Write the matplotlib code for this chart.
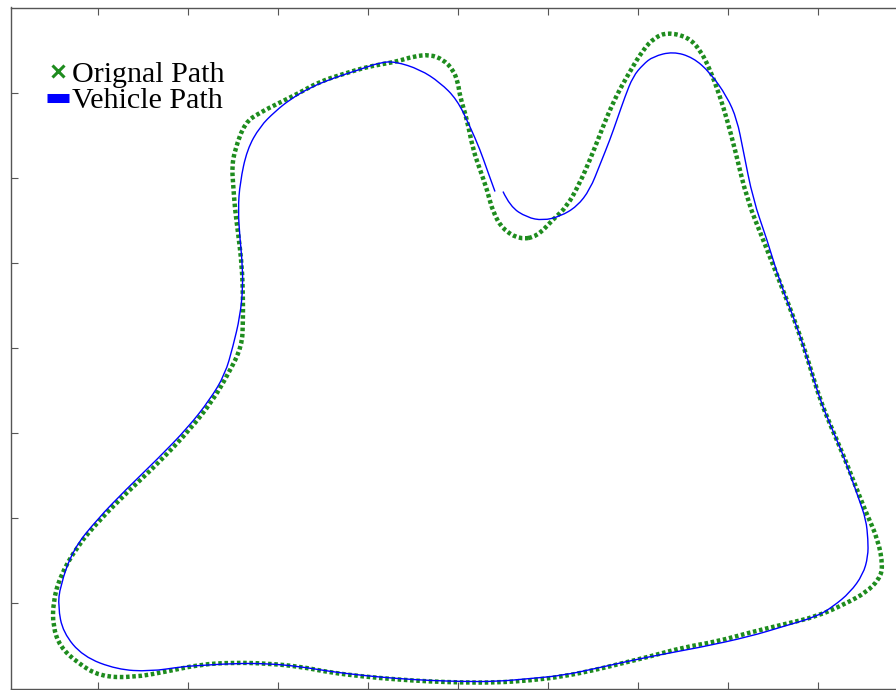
import numpy as np
import matplotlib
matplotlib.use("Agg")
import matplotlib.pyplot as plt
from matplotlib.path import Path
from matplotlib.patches import PathPatch
from matplotlib.lines import Line2D

# original (reference) path, closed loop
orig_x = [56.89, 58.78, 60.56, 62.11, 63.56, 64.67, 65.56, 66.56, 67.67, 68.78,
          70.56, 71.89, 73.22, 75.44, 76.89, 78.00, 79.11, 79.89, 80.78, 82.11,
          83.89, 85.78, 87.67, 89.11, 90.22, 91.44, 92.78, 93.89, 95.33, 96.67,
          97.22, 96.78, 95.33, 93.11, 89.89, 86.11, 82.44, 78.78, 75.00, 71.33,
          67.67, 65.44, 61.67, 58.00, 54.33, 50.56, 46.89, 43.22, 39.44, 35.78,
          32.44, 28.78, 25.00, 21.33, 17.67, 13.89, 10.22, 7.67, 5.78, 5.00,
          5.00, 5.78, 7.67, 10.22, 13.33, 16.89, 20.22, 22.67, 24.44, 26.00,
          26.11, 26.11, 26.00, 25.56, 25.22, 25.00, 24.89, 25.22, 26.33, 28.00,
          30.22, 32.44, 34.67, 37.44, 39.67, 41.33, 43.22, 45.00, 46.89, 48.33,
          49.44, 50.00, 50.22, 51.00, 51.67, 52.44, 53.22, 53.89, 55.00]
orig_y = [52.75, 53.10, 55.10, 56.62, 59.44, 62.14, 64.49, 67.20, 69.78, 71.89,
          75.07, 76.48, 77.06, 76.59, 75.07, 72.72, 69.54, 66.84, 63.32, 57.44,
          52.75, 47.69, 42.53, 37.83, 33.95, 30.78, 27.49, 24.55, 20.68, 17.50,
          14.33, 12.80, 11.28, 9.99, 8.46, 7.52, 6.58, 5.52, 4.82, 3.76,
          2.82, 2.23, 1.41, 0.94, 0.70, 0.70, 0.82, 1.06, 1.41, 1.88,
          2.58, 2.94, 3.05, 2.82, 2.00, 1.29, 1.41, 3.05, 4.93, 7.28,
          10.10, 13.16, 16.68, 19.85, 23.14, 26.67, 30.43, 33.71, 36.89, 40.18,
          43.35, 45.70, 49.57, 53.57, 56.27, 59.44, 61.32, 63.32, 66.49, 67.66,
          68.84, 70.01, 71.31, 72.25, 72.95, 73.30, 73.66, 74.24, 74.48, 73.89,
          72.72, 71.19, 69.54, 66.84, 63.32, 60.97, 58.62, 55.92, 53.92]

# vehicle path (open: starts and ends near the dip)
veh_x = [55.00, 55.78, 57.67, 59.44, 61.33, 63.22, 64.67, 65.78, 66.89, 67.67,
         68.56, 69.44, 70.56, 71.67, 73.89, 76.11, 78.00, 79.89, 81.00, 81.67,
         82.78, 84.33, 85.78, 87.67, 89.11, 90.22, 91.44, 92.78, 93.78, 94.56,
         95.33, 95.56, 95.56, 95.00, 93.56, 91.67, 89.89, 86.11, 82.44, 76.89,
         71.33, 65.78, 61.67, 58.00, 54.33, 50.56, 46.89, 43.22, 39.44, 35.78,
         32.44, 28.78, 25.00, 21.33, 19.44, 15.78, 12.11, 8.33, 6.11, 5.56,
         5.78, 7.22, 9.89, 13.11, 16.67, 20.00, 22.44, 24.11, 25.00, 25.78,
         26.11, 26.00, 25.78, 25.56, 25.78, 26.56, 28.00, 29.67, 31.33, 33.56,
         36.33, 39.11, 41.33, 43.00, 45.78, 48.00, 49.89, 51.33, 52.44, 53.22,
         54.11]
veh_y = [58.38, 56.62, 55.33, 54.98, 55.45, 56.62, 58.62, 61.56, 64.49, 66.84,
         69.54, 71.89, 73.30, 74.24, 74.83, 74.13, 72.36, 69.54, 66.84, 63.32,
         57.44, 52.75, 47.69, 42.53, 37.83, 33.95, 30.78, 27.49, 24.55, 22.20,
         19.85, 17.50, 15.51, 13.39, 11.28, 9.63, 8.46, 7.28, 6.11, 4.82,
         3.76, 2.47, 1.53, 1.17, 0.82, 0.82, 0.94, 1.17, 1.53, 2.00,
         2.58, 2.94, 2.94, 2.70, 2.58, 2.00, 2.23, 3.76, 6.58, 9.63,
         11.98, 16.33, 19.85, 23.38, 27.02, 30.66, 33.95, 36.89, 40.18, 43.70,
         47.22, 50.40, 52.75, 56.27, 59.44, 63.32, 66.02, 67.78, 69.19, 70.60,
         71.78, 72.72, 73.54, 73.66, 72.72, 71.19, 69.19, 66.02, 63.32, 60.97,
         58.38]


def smooth_path(xs, ys, closed=False):
    # quadratic bezier through midpoints of the read points
    p = np.column_stack([xs, ys])
    if closed:
        p = np.vstack([p, p[:2]])
        verts = [(p[0] + p[1]) / 2]
    else:
        verts = [p[0]]
    codes = [Path.MOVETO]
    n = len(p)
    for i in range(1, n - 1):
        end = (p[i] + p[i + 1]) / 2
        if not closed and i == n - 2:
            end = p[i + 1]
        verts += [p[i], end]
        codes += [Path.CURVE3, Path.CURVE3]
    return Path(verts, codes)


green = '#1e8c1e'
fig = plt.figure(figsize=(8.96, 6.9), dpi=100)
ax = fig.add_axes([11 / 896, 1.5 / 690, 897 / 896, 681 / 690])

ax.add_patch(PathPatch(smooth_path(orig_x, orig_y, closed=True), fill=False,
                       edgecolor=green, lw=3.2, linestyle=(0, (0.8, 0.6))))
ax.add_patch(PathPatch(smooth_path(veh_x, veh_y), fill=False,
                       edgecolor='#0000ff', lw=1.0))

ax.set_xlim(1 / 3, 100)
ax.set_ylim(0, 80)
ax.set_xticks(np.arange(10, 100, 10))
ax.set_yticks(np.arange(10, 80, 10))
ax.tick_params(direction='in', length=5, width=0.8, color='#555555',
               top=True, right=True, labelbottom=False, labelleft=False)
for s in ax.spines.values():
    s.set_color('#555555')
    s.set_linewidth(1.0)

handles = [Line2D([], [], color=green, marker='x', linestyle='none',
                  markersize=8, mew=2.2),
           Line2D([], [], color='#0000ff', lw=6.5, solid_capstyle='butt')]
ax.legend(handles, ['Orignal Path', 'Vehicle Path'], loc='upper left',
          bbox_to_anchor=(0.040, 0.922), frameon=False,
          prop={'family': 'Liberation Serif', 'size': 21.6},
          handlelength=0.75, handletextpad=0.1, labelspacing=-0.02,
          borderpad=0, borderaxespad=0)

fig.savefig('out.png', dpi=100)
